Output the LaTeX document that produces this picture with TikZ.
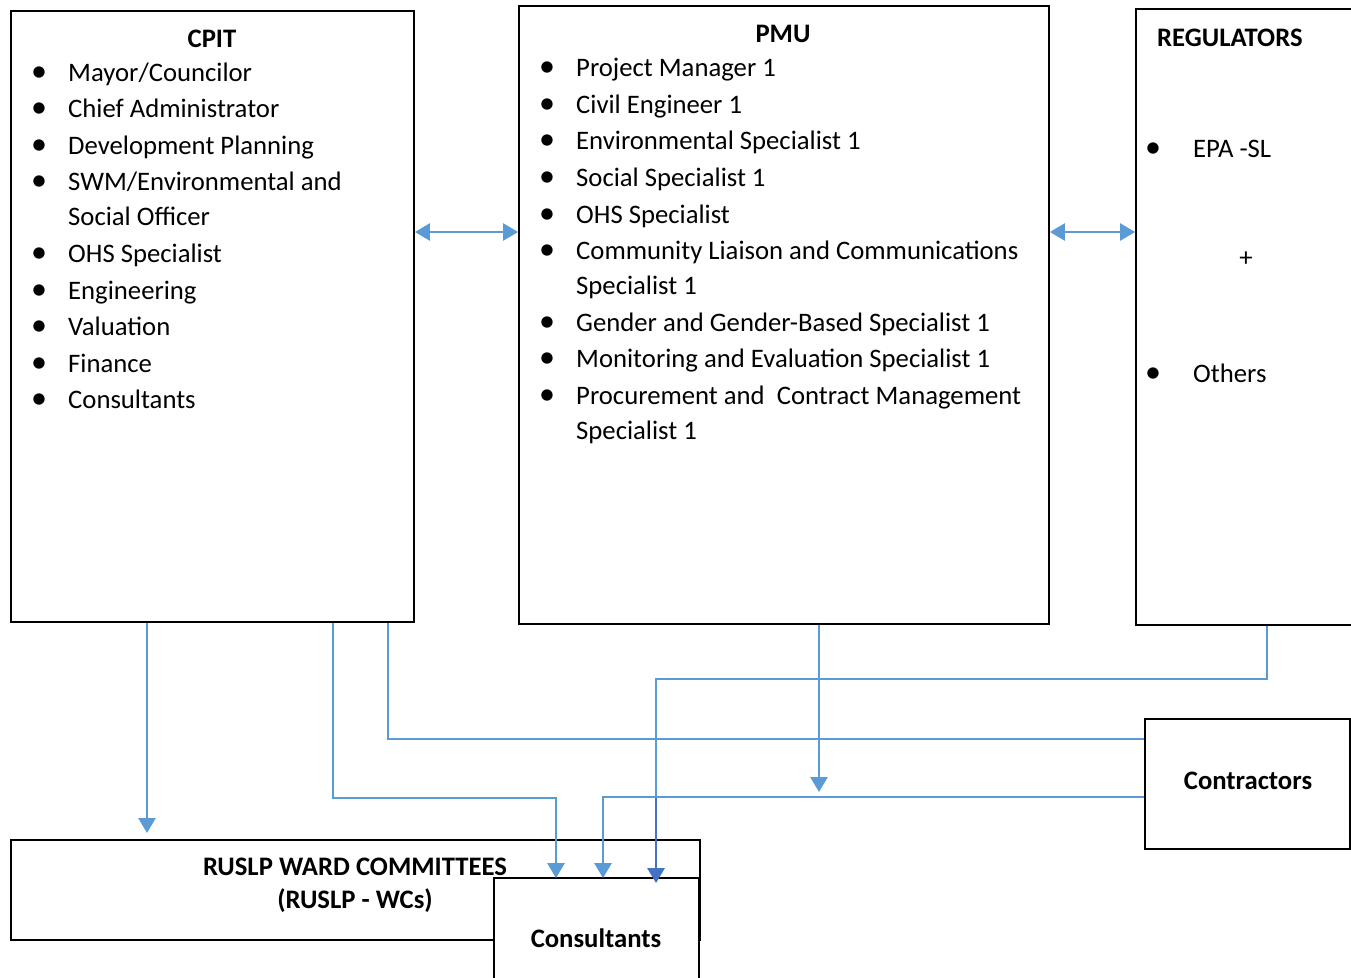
\documentclass[tikz,border=0pt]{standalone}
\usepackage{fontspec}
\setmainfont{Carlito}
\usetikzlibrary{arrows.meta}
\definecolor{lineblue}{HTML}{5B9BD5}
\definecolor{darkblue}{HTML}{4472C4}
\newcommand\blitem[4]{\node[txt] (#1) at (#2,#3) {\makebox[37pt][l]{\scalebox{1.2}{\textbullet}}#4};}
\begin{document}
\begin{tikzpicture}[x=1pt,y=-1pt,
  box/.style={draw=black,line width=1.8pt,inner sep=0pt,fill=white},
  txt/.style={anchor=base west,inner sep=0pt,font=\fontsize{26.7}{30}\selectfont},
  ttl/.style={anchor=base,inner sep=0pt,font=\fontsize{26.7}{30}\selectfont\bfseries},
  conn/.style={draw=lineblue,line width=2.7pt},
  tip/.style={-{Triangle[length=15pt,width=17pt]}},
  dtip/.style={{Triangle[length=15pt,width=17pt]}-{Triangle[length=15pt,width=17pt]}}]
\useasboundingbox (0,0) rectangle (1351,977);
\clip (0,0) rectangle (1351,977);

% boxes
\node[box,minimum width=403pt,minimum height=611pt] (cpit) at (212.5,316.5) {};
\node[box,minimum width=530pt,minimum height=618pt] (pmu) at (784,315) {};
\node[box,minimum width=234pt,minimum height=616pt] (reg) at (1253,317) {};
\node[box,minimum width=205pt,minimum height=130pt] (contr) at (1247.5,784) {};
\node[box,minimum width=689pt,minimum height=100pt] (wc) at (355.5,890) {};

% CPIT text
\node[ttl] (cpitT) at (212,47) {CPIT};
\blitem{c1}{31}{81}{Mayor/Councilor}
\blitem{c2}{31}{117}{Chief Administrator}
\blitem{c3}{31}{154}{Development Planning}
\blitem{c4}{31}{190}{SWM/Environmental and}
\node[txt] (c4b) at (68,225) {Social Officer};
\blitem{c5}{31}{262}{OHS Specialist}
\blitem{c6}{31}{299}{Engineering}
\blitem{c7}{31}{335}{Valuation}
\blitem{c8}{31}{372}{Finance}
\blitem{c9}{31}{408}{Consultants}

% PMU text
\node[ttl] (pmuT) at (783,42) {PMU};
\blitem{p1}{539}{76}{Project Manager 1}
\blitem{p2}{539}{113}{Civil Engineer 1}
\blitem{p3}{539}{149}{Environmental Specialist 1}
\blitem{p4}{539}{186}{Social Specialist 1}
\blitem{p5}{539}{223}{OHS Specialist}
\blitem{p6}{539}{259}{Community Liaison and Communications}
\node[txt] (p6b) at (576,294) {Specialist 1};
\blitem{p7}{539}{331}{Gender and Gender-Based Specialist 1}
\blitem{p8}{539}{367}{Monitoring and Evaluation Specialist 1}
\blitem{p9}{539}{404}{Procurement and\ \ Contract Management}
\node[txt] (p9b) at (576,439) {Specialist 1};

% Regulators text
\node[ttl,anchor=base west] (regT) at (1157,46) {REGULATORS};
\node[txt] (r1) at (1145,157) {\makebox[48pt][l]{\scalebox{1.2}{\textbullet}}EPA -SL};
\node[txt,anchor=base] (rplus) at (1246,266) {+};
\node[txt] (r2) at (1145,382) {\makebox[48pt][l]{\scalebox{1.2}{\textbullet}}Others};

% Contractors / WC text
\node[ttl] (contrT) at (1248,789) {Contractors};
\node[ttl] (wcT1) at (355,875) {RUSLP WARD COMMITTEES};
\node[ttl] (wcT2) at (355,908) {(RUSLP - WCs)};

% Consultants box on top
\node[box,minimum width=205pt,minimum height=112pt] (cons) at (596.5,934) {};
\node[ttl] (consT) at (596,947) {Consultants};

% coordinates
\coordinate (y232) at (0,232);
\coordinate (a147) at (147,833);
\coordinate (b333) at (333,798);
\coordinate (b556) at (556,798);
\coordinate (e388) at (388,739);
\coordinate (f819) at (819,792);
\coordinate (g1267) at (1267,679);
\coordinate (g656) at (656,679);
\coordinate (g656b) at (656,798);
\coordinate (h603) at (603,797);
\coordinate (yc797) at (0,797);

% connectors
\draw[conn,dtip] (cpit.east |- y232) -- (pmu.west |- y232);
\draw[conn,dtip] (pmu.east |- y232) -- (reg.west |- y232);
\draw[conn,tip] (cpit.south -| a147) -- (a147);
\draw[conn,tip] (cpit.south -| b333) -- (b333) -- (b556) -- ([yshift=-1pt]cons.north -| b556);
\draw[conn] (cpit.south -| e388) |- (contr.west |- e388);
\draw[conn,tip] (pmu.south -| f819) -- (f819);
\draw[conn] (reg.south -| g1267) -- (g1267) -- (g656) -- (g656b);
\draw[conn,draw=darkblue,tip] (g656b) -- ([yshift=-6pt]cons.north -| g656b);
\draw[conn,tip] (contr.west |- yc797) -- (h603) -- ([yshift=-1pt]cons.north -| h603);
\end{tikzpicture}
\end{document}
